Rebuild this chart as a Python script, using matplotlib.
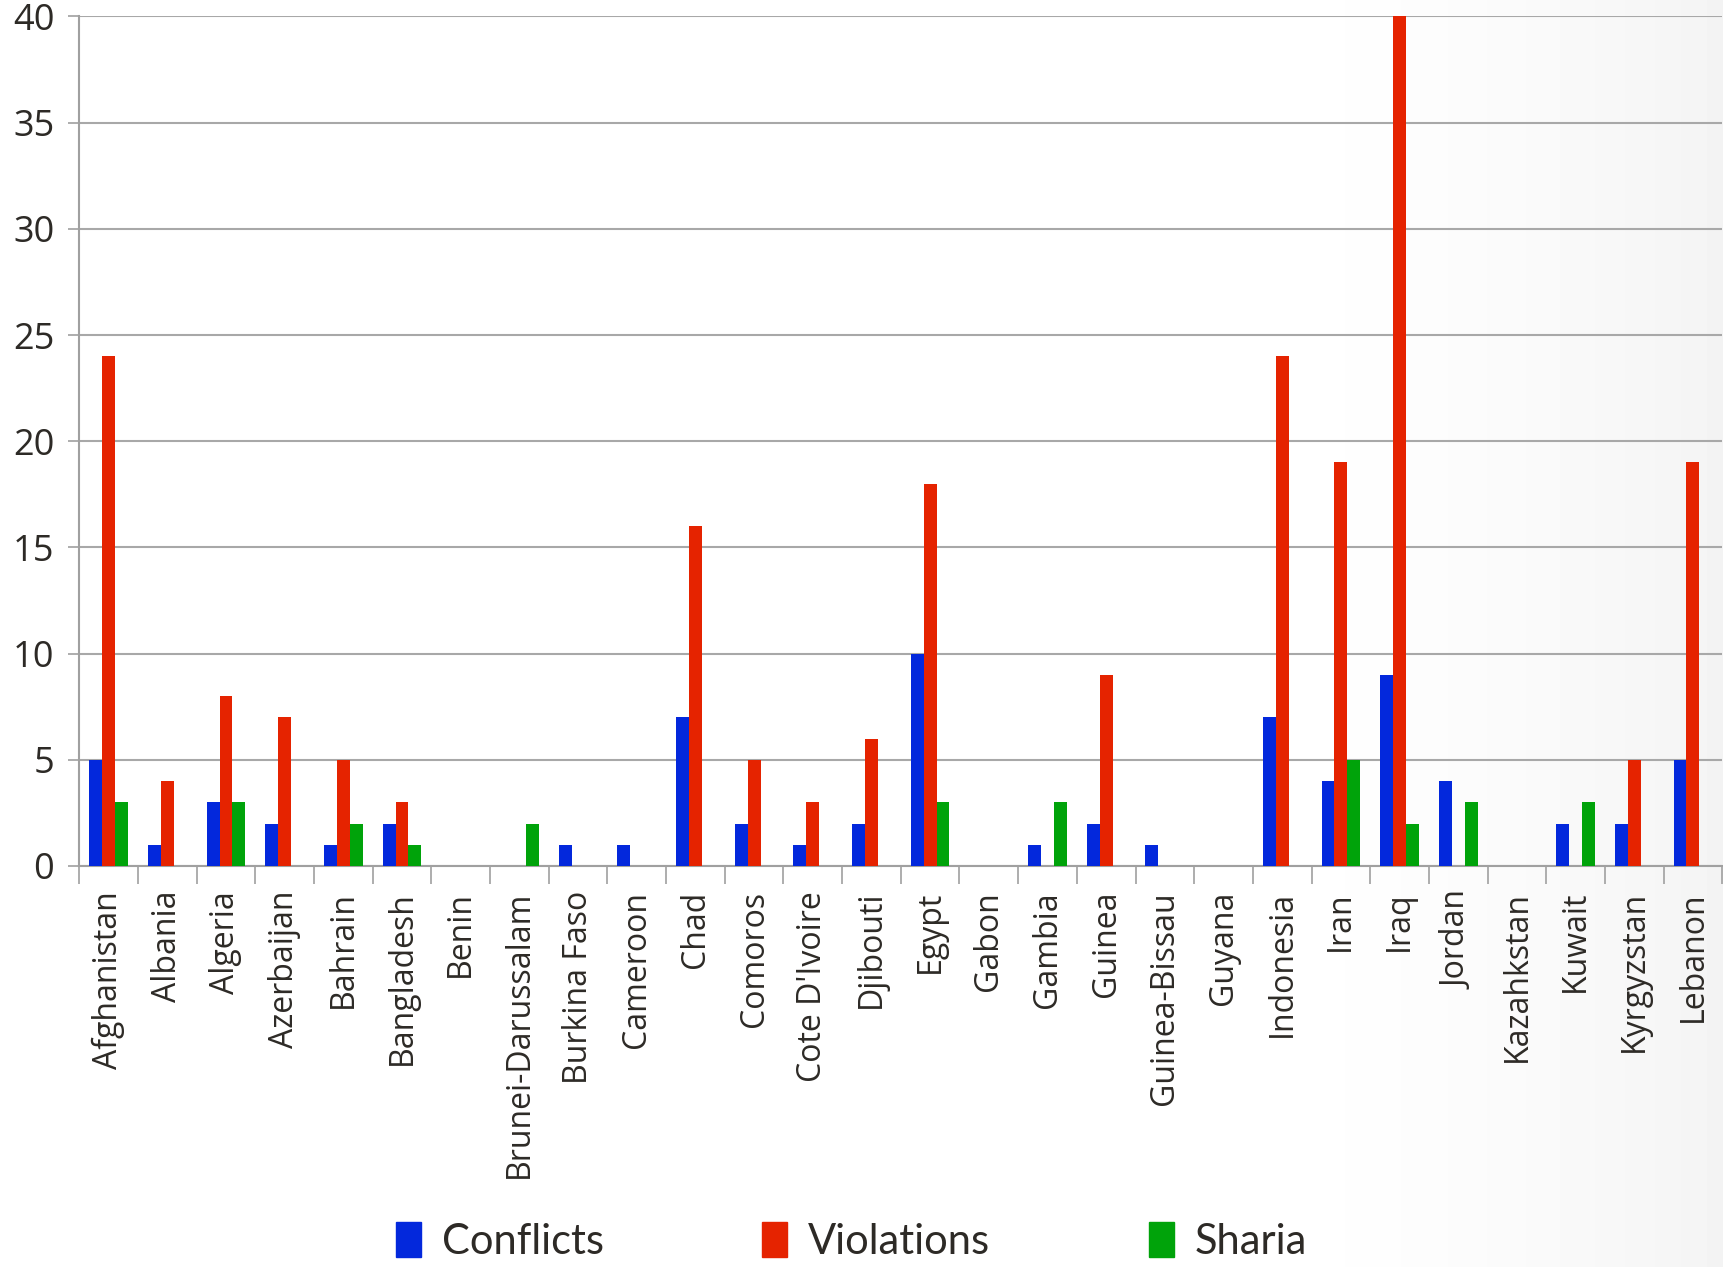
import numpy as np
import matplotlib.pyplot as plt
from matplotlib.patches import Patch

countries = ["Afghanistan", "Albania", "Algeria", "Azerbaijan", "Bahrain", "Bangladesh",
             "Benin", "Brunei-Darussalam", "Burkina Faso", "Cameroon", "Chad", "Comoros",
             "Cote D'Ivoire", "Djibouti", "Egypt", "Gabon", "Gambia", "Guinea",
             "Guinea-Bissau", "Guyana", "Indonesia", "Iran", "Iraq", "Jordan",
             "Kazahkstan", "Kuwait", "Kyrgyzstan", "Lebanon"]
conflicts = [5, 1, 3, 2, 1, 2, 0, 0, 1, 1, 7, 2, 1, 2, 10, 0, 1, 2, 1, 0, 7, 4, 9, 4, 0, 2, 2, 5]
violations = [24, 4, 8, 7, 5, 3, 0, 0, 0, 0, 16, 5, 3, 6, 18, 0, 0, 9, 0, 0, 24, 19, 40, 0, 0, 0, 5, 19]
sharia = [3, 0, 3, 0, 2, 1, 0, 2, 0, 0, 0, 0, 0, 0, 3, 0, 3, 0, 0, 0, 0, 5, 2, 3, 0, 3, 0, 0]

series = [("Conflicts", conflicts, "#0328dc"),
          ("Violations", violations, "#e52300"),
          ("Sharia", sharia, "#00a30a")]

text_col = "#2d2a26"
plt.rcParams['font.family'] = ['Open Sans', 'DejaVu Sans']

fig = plt.figure(figsize=(17.24, 12.67), dpi=100)

# soft grey fade at the right edge of the slide
bg = fig.add_axes([0, 0, 1, 1], zorder=-10)
grad = np.linspace(0, 1, 400)
grad = np.clip((grad - 0.72) / 0.28, 0, 1) ** 1.6
bg.imshow(1 - 0.045 * grad[None, :], cmap="gray", vmin=0, vmax=1, aspect="auto",
          extent=[0, 1, 0, 1])
bg.axis("off")

ax = fig.add_axes([0.046, 0.3165, 0.953, 0.6705])
ax.patch.set_alpha(0)

x = np.arange(len(countries))
w = 0.22
for i, (name, vals, col) in enumerate(series):
    ax.bar(x + (i - 1) * w, vals, width=w, color=col, label=name, zorder=3)

ax.set_xlim(-0.5, len(countries) - 0.5)
ax.set_ylim(0, 40)
ax.set_yticks(range(0, 41, 5))
ax.yaxis.grid(True, color="#a8a8a8", linewidth=1.5)
ax.set_axisbelow(True)

ax.set_xticks(x)
ax.set_xticklabels(countries, rotation=90, fontsize=23, color=text_col)
ax.set_xticks(np.arange(-0.5, len(countries), 1), minor=True)
ax.tick_params(axis="x", which="major", length=0, pad=18)
ax.tick_params(axis="x", which="minor", length=13, width=1.2, color="#a0a0a0")
ax.tick_params(axis="y", labelsize=26, labelcolor=text_col, length=8, width=1.2,
               color="#a0a0a0", pad=10)

for s in ["top", "right"]:
    ax.spines[s].set_visible(False)
for s in ["left", "bottom"]:
    ax.spines[s].set_color("#a0a0a0")
    ax.spines[s].set_linewidth(1.5)

handles = [Patch(color=c) for _, _, c in series]
fig.legend(handles, [n for n, _, _ in series], loc="center", bbox_to_anchor=(0.494, 0.02),
           ncol=3, frameon=False, columnspacing=3.8, handlelength=0.6,
           handleheight=0.9, handletextpad=0.5, labelcolor=text_col,
           prop={"family": ["Lato", "DejaVu Sans"], "size": 30})

fig.savefig("out.png", dpi=100)
